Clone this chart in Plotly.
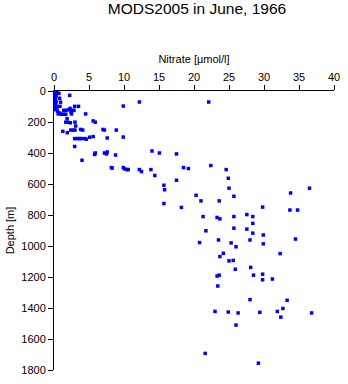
import plotly.graph_objects as go

# Nitrate concentration (umol/l) and sample depth (m), June 1966 casts
nitrate = [
    0.1, 0.2, 0.1, 0.3, 0.1, 0.2, 0.1, 0.3, 0.2, 0.1, 0.2, 0.4, 0.1, 0.5,
    0.4, 0.7, 2.24, 0.8, 0.94, 0.4, 0.85, 0.24, 0.8, 1.08,
    1.4, 1.7, 2.05, 2.3, 2.4, 2.57, 2.85, 2.95, 3.5, 2.5, 0.6, 1.26, 1.68,
    1.87, 1.68, 1.96, 2.34, 3.0, 4.52, 5.6, 5.9, 3.1,
    2.4, 2.7, 3.0, 3.8, 4.1, 1.26, 1.9, 2.95, 3.3, 3.6, 3.9, 4.4, 4.6,
    5.1, 5.6, 7.0, 7.2, 7.6, 8.9, 9.9, 2.95, 4.0, 5.9, 5.8, 7.2, 7.5, 7.6,
    8.8, 8.3, 12.2, 9.9, 22.1,
    14.0, 15.06, 17.5, 8.2, 9.9, 10.1, 10.45, 10.6, 12.2, 12.5, 13.85, 14.4,
    18.5, 19.2, 22.4, 24.6, 15.7, 15.8, 17.5, 15.7, 18.2, 20.3, 21.0, 23.6,
    24.9, 25.0, 25.7, 36.5, 33.8, 29.8, 33.7, 34.8,
    21.3, 23.3, 23.7, 25.7, 27.55, 28.4, 28.4, 21.7, 25.7, 27.55, 28.4, 29.9,
    20.8, 23.5, 25.3, 26.0, 28.0, 29.9, 34.5, 24.2, 23.7, 25.0, 25.6, 32.3,
    25.9, 28.1, 23.3, 23.6, 28.5, 29.8, 29.8, 31.2, 23.4, 28.0, 33.3,
    23.0, 24.9, 26.3, 29.4, 31.9, 32.7, 32.4, 36.8, 26.0, 21.6, 29.2,
]
depth = [
    0, 10, 20, 30, 40, 50, 60, 70, 80, 90, 100, 110, 120, 130,
    8, 15, 28, 47, 72, 99, 99, 116, 142, 150,
    125, 125, 121, 112, 133, 125, 125, 99, 99, 148, 148, 150, 150,
    178, 201, 201, 205, 201, 148, 193, 201, 226,
    252, 252, 252, 248, 252, 260, 269, 307, 307, 307, 307, 307, 311,
    298, 294, 248, 252, 303, 252, 297, 358, 447, 400, 409, 400, 406, 393,
    413, 497, 71, 97, 71,
    387, 400, 406, 494, 494, 503, 507, 507, 507, 520, 507, 545,
    494, 500, 481, 507, 608, 637, 576, 726, 751, 673, 709, 709,
    563, 627, 679, 627, 658, 749, 768, 768,
    810, 816, 825, 810, 797, 810, 854, 902, 885, 891, 917, 929,
    978, 961, 980, 1005, 961, 986, 955, 1047, 1068, 1096, 1093, 1049,
    1150, 1138, 1194, 1188, 1188, 1182, 1218, 1213, 1258, 1346, 1350,
    1422, 1426, 1432, 1428, 1422, 1403, 1459, 1432, 1510, 1693, 1756,
]

x_ticks = [0, 5, 10, 15, 20, 25, 30, 35, 40]
y_ticks = [0, 200, 400, 600, 800, 1000, 1200, 1400, 1600, 1800]

font_family = "Liberation Sans, Arial, Helvetica, sans-serif"

fig = go.Figure(
    go.Scatter(
        x=nitrate,
        y=depth,
        mode="markers",
        marker=dict(symbol="square", size=3.5, color="#0000ff", line=dict(width=0)),
        showlegend=False,
    )
)

fig.update_layout(
    width=348,
    height=384,
    margin=dict(l=54, r=8, t=91, b=8),
    paper_bgcolor="white",
    plot_bgcolor="white",
    font=dict(family=font_family, size=11, color="black"),
    title=dict(
        text="MODS2005 in June, 1966",
        x=197 / 348,
        xanchor="center",
        y=1 - 9 / 384,
        yanchor="middle",
        font=dict(size=15.5, color="black"),
    ),
)

fig.update_xaxes(
    range=[0, 40],
    side="top",
    tickvals=x_ticks,
    ticks="outside",
    ticklen=5,
    tickcolor="black",
    showline=True,
    linecolor="black",
    linewidth=1,
    showgrid=False,
    zeroline=False,
    title=dict(text="Nitrate [µmol/l]", standoff=4, font=dict(size=11)),
)

fig.update_yaxes(
    range=[1800, 0],
    tickvals=y_ticks,
    ticks="outside",
    ticklen=5,
    tickcolor="black",
    showline=True,
    linecolor="black",
    linewidth=1,
    showgrid=False,
    zeroline=False,
    title=dict(text="Depth [m]", standoff=4, font=dict(size=11)),
)

fig.write_html("out.html")
